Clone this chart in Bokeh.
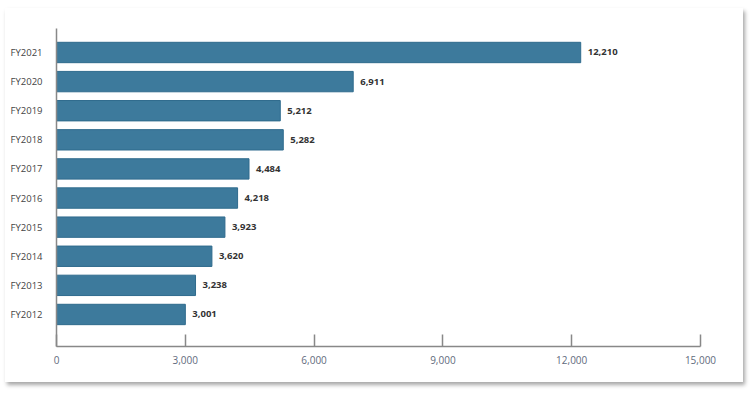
from bokeh.plotting import figure
from bokeh.models import ColumnDataSource, Range1d, FixedTicker, NumeralTickFormatter
from bokeh.core.properties import value
from bokeh.embed import file_html
from bokeh.resources import INLINE

categories = ["FY2012", "FY2013", "FY2014", "FY2015", "FY2016",
              "FY2017", "FY2018", "FY2019", "FY2020", "FY2021"]
values = [3001, 3238, 3620, 3923, 4218, 4484, 5282, 5212, 6911, 12210]
x_ticks = [0, 3000, 6000, 9000, 12000, 15000]

ypos = list(range(len(categories)))
src = ColumnDataSource(dict(
    y=ypos, v=values, cat=categories,
    lab=[f"{v:,}" for v in values],
))

p = figure(width=738, height=374, output_backend="svg", toolbar_location=None,
           x_range=Range1d(0, 15000), y_range=Range1d(-1.10, 9.824),
           min_border_left=51, min_border_right=43, min_border_top=20,
           min_border_bottom=36)
p.styles = {"box-shadow": "2px 3px 4px rgba(0,0,0,0.35)",
            "margin-left": "5px", "margin-top": "8px"}
p.background_fill_color = "white"
p.border_fill_color = "white"
p.outline_line_color = None
p.grid.visible = False

p.hbar(y="y", right="v", left=0, height=0.7, source=src,
       fill_color="#3d7a9c", line_color="#2f6b8d", line_width=1)
p.text(x="v", y="y", text="lab", source=src, x_offset=7,
       text_baseline="middle", text_align="left",
       text_font=value("Open Sans"), text_font_size="9.5px",
       text_font_style="bold", text_color="#333333")

xa = p.xaxis[0]
xa.ticker = FixedTicker(ticks=x_ticks)
xa.formatter = NumeralTickFormatter(format="0,0")
xa.axis_line_color = "#888888"
xa.axis_line_width = 1.5
xa.major_tick_line_color = "#888888"
xa.major_tick_line_width = 1.5
xa.major_tick_in = 12
xa.major_tick_out = 0
xa.minor_tick_line_color = None
xa.major_label_standoff = 9
xa.major_label_text_font = "Open Sans"
xa.major_label_text_font_size = "10px"
xa.major_label_text_color = "#5f6b7d"

ya = p.yaxis[0]
ya.ticker = FixedTicker(ticks=ypos)
ya.major_label_overrides = {i: c for i, c in zip(ypos, categories)}
ya.axis_line_color = "#888888"
ya.axis_line_width = 1.5
ya.major_tick_line_color = None
ya.minor_tick_line_color = None
ya.major_label_standoff = 8
ya.major_label_text_font = "Open Sans"
ya.major_label_text_font_size = "9.5px"
ya.major_label_text_color = "#444444"

open("out.html", "w").write(file_html(p, INLINE))
